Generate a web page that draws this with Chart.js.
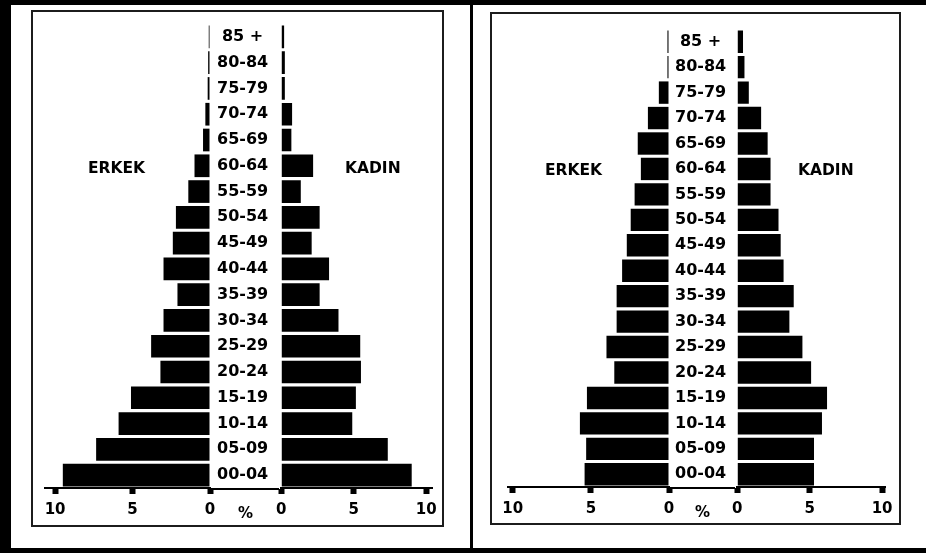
<!DOCTYPE html>
<html>
<head>
<meta charset="utf-8">
<script src="https://cdn.jsdelivr.net/npm/chart.js@4.4.1/dist/chart.umd.min.js"></script>
<style>
  body { margin: 0; background: #fff; }
  #page { position: relative; width: 926px; height: 553px; overflow: hidden;
          font-family: 'DejaVu Sans', Verdana, sans-serif; font-weight: bold; color: #000; }
  .band { position: absolute; background: #000; }
  .box { position: absolute; border: 2px solid #1c1c1c; box-sizing: border-box; }
  .side { position: absolute; font-size: 15.5px; line-height: 16px; }
  .pct { position: absolute; font-size: 15px; line-height: 15px; }
  canvas { position: absolute; }
</style>
</head>
<body>
<div id="page">
  <div class="band" style="left:0;top:0;width:926px;height:5px"></div>
  <div class="band" style="left:0;top:0;width:11px;height:553px"></div>
  <div class="band" style="left:470px;top:0;width:3px;height:553px"></div>
  <div class="band" style="left:0;top:548px;width:926px;height:5px"></div>

  <div class="box" style="left:31px;top:10px;width:413px;height:517px"></div>
  <div class="box" style="left:490px;top:12px;width:411px;height:513px"></div>

  <canvas id="leftMale" width="249" height="540" style="left:30px;top:0"></canvas>
  <canvas id="leftFemale" width="178" height="540" style="left:269px;top:0"></canvas>
  <canvas id="rightMale" width="242" height="540" style="left:493px;top:0"></canvas>
  <canvas id="rightFemale" width="175" height="540" style="left:725px;top:0"></canvas>

  <div class="side" style="left:88px;top:160px">ERKEK</div>
  <div class="side" style="left:345px;top:160px">KADIN</div>
  <div class="side" style="left:545px;top:162px">ERKEK</div>
  <div class="side" style="left:798px;top:162px">KADIN</div>

  <div class="pct" style="left:238px;top:506px">%</div>
  <div class="pct" style="left:695px;top:505px">%</div>
</div>

<script>
// Age groups, top of the pyramid first
const ageGroups = ['85 +', '80-84', '75-79', '70-74', '65-69', '60-64', '55-59', '50-54', '45-49',
  '40-44', '35-39', '30-34', '25-29', '20-24', '15-19', '10-14', '05-09', '00-04'];

// Percentages
const leftMale = [0.08, 0.12, 0.15, 0.3, 0.45, 1.0, 1.4, 2.2, 2.4, 3.0, 2.1, 3.0, 3.8, 3.2, 5.1, 5.9, 7.35, 9.5];
const leftFemale = [0.2, 0.25, 0.25, 0.75, 0.7, 2.2, 1.35, 2.65, 2.1, 3.3, 2.65, 3.95, 5.45, 5.5, 5.15, 4.9, 7.35, 9.0];
const rightMale = [0.1, 0.1, 0.65, 1.35, 2.0, 1.8, 2.2, 2.45, 2.7, 3.0, 3.35, 3.35, 4.0, 3.5, 5.25, 5.7, 5.3, 5.4];
const rightFemale = [0.4, 0.5, 0.8, 1.65, 2.1, 2.3, 2.3, 2.85, 3.0, 3.2, 3.9, 3.6, 4.5, 5.1, 6.2, 5.85, 5.3, 5.3];

const tickValues = [0, 5, 10];

const boldFont = (size) => ({ family: "'DejaVu Sans', Verdana, sans-serif", weight: 'bold', size: size });

// joins the bottom axis line across the gap under the age labels
const gapLine = {
  id: 'gapLine',
  afterDraw(chart) {
    const x = chart.scales.x;
    const ctx = chart.ctx;
    ctx.save();
    ctx.fillStyle = '#000';
    ctx.fillRect(chart.chartArea.right, x.top, chart.width - chart.chartArea.right, 2);
    ctx.restore();
  }
};

function makeSide(id, values, opts) {
  const isMale = opts.male;
  return new Chart(document.getElementById(id), {
    type: 'bar',
    data: {
      labels: ageGroups,
      datasets: [{
        data: values,
        backgroundColor: '#000',
        borderWidth: 0,
        barPercentage: 0.88,
        categoryPercentage: 1
      }]
    },
    options: {
      indexAxis: 'y',
      responsive: false,
      animation: false,
      layout: {
        autoPadding: false,
        padding: { left: opts.padLeft, right: opts.padRight, top: opts.top, bottom: opts.bottom }
      },
      plugins: { legend: { display: false }, tooltip: { enabled: false } },
      scales: {
        x: {
          type: 'linear',
          reverse: isMale,
          min: 0,
          max: opts.max,
          afterBuildTicks: (scale) => { scale.ticks = tickValues.map(v => ({ value: v })); },
          afterFit: (scale) => { scale.height = 40; },
          grid: { drawOnChartArea: false, drawTicks: true, tickLength: 6, tickWidth: 6, tickColor: '#000' },
          border: { display: true, color: '#000', width: 2 },
          ticks: { color: '#000', font: boldFont(15), padding: 7, maxRotation: 0 }
        },
        y: {
          display: isMale,
          position: 'right',
          afterFit: (scale) => { if (isMale) scale.width = opts.gap; },
          grid: { display: false, drawTicks: false },
          border: { display: false },
          ticks: { color: '#000', font: boldFont(16), crossAlign: 'center', padding: opts.labelPad, autoSkip: false }
        }
      }
    },
    plugins: isMale ? [gapLine] : []
  });
}

// left pyramid
makeSide('leftMale', leftMale, { male: true, max: 10.65, padLeft: 15, padRight: 0, top: 24, bottom: 12, gap: 69, labelPad: 7 });
makeSide('leftFemale', leftFemale, { male: false, max: 10.4, padLeft: 10, padRight: 15, top: 24, bottom: 12 });

// right pyramid
makeSide('rightMale', rightMale, { male: true, max: 10.3, padLeft: 15, padRight: 0, top: 29, bottom: 13, gap: 66, labelPad: 6 });
makeSide('rightFemale', rightFemale, { male: false, max: 10.2, padLeft: 10, padRight: 15, top: 29, bottom: 13 });
</script>
</body>
</html>
